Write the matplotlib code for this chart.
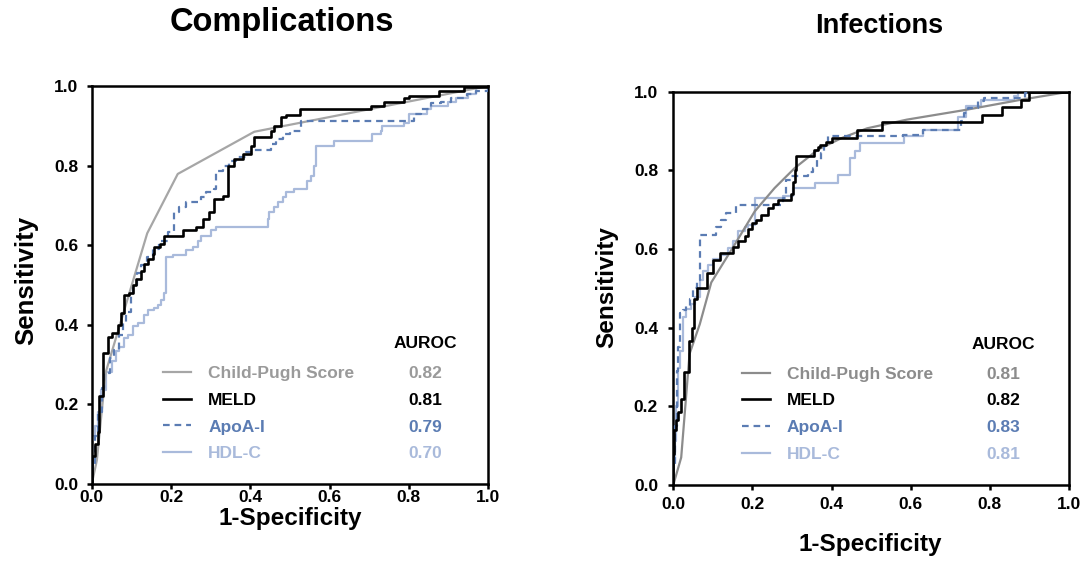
import matplotlib
matplotlib.use("Agg")
import matplotlib.pyplot as plt
from matplotlib.ticker import FormatStrFormatter

plt.rcParams['font.family'] = ['Liberation Sans', 'DejaVu Sans']
plt.rcParams['font.weight'] = 'bold'

# Legend names and AUROC values
names = ['Child-Pugh Score', 'MELD', 'ApoA-I', 'HDL-C']
auroc_comp = ['0.82', '0.81', '0.79', '0.70']
auroc_inf = ['0.81', '0.82', '0.83', '0.81']

# ---- Complications (fpr, tpr) ----
comp_cp_fpr = [0.0, 0.013, 0.035, 0.14, 0.217, 0.41, 1.0]
comp_cp_tpr = [0.0, 0.06, 0.28, 0.63, 0.779, 0.885, 1.0]

comp_meld_fpr = [0.0, 0.0, 0.008, 0.015, 0.018, 0.028, 0.042, 0.05, 0.065, 0.075, 0.082,
                 0.095, 0.103, 0.112, 0.124, 0.133, 0.141, 0.154, 0.158, 0.171, 0.183,
                 0.229, 0.263, 0.28, 0.297, 0.309, 0.33, 0.343, 0.36, 0.381, 0.402, 0.41,
                 0.452, 0.46, 0.478, 0.49, 0.525, 0.704, 0.738, 0.788, 0.80, 0.876, 0.94, 1.0]
comp_meld_tpr = [0.0, 0.07, 0.10, 0.13, 0.22, 0.33, 0.37, 0.38, 0.40, 0.43, 0.475,
                 0.48, 0.50, 0.515, 0.536, 0.553, 0.565, 0.578, 0.595, 0.603, 0.624,
                 0.637, 0.645, 0.666, 0.683, 0.716, 0.724, 0.80, 0.817, 0.829, 0.85, 0.871,
                 0.888, 0.90, 0.921, 0.928, 0.942, 0.95, 0.96, 0.971, 0.975, 0.988, 0.997, 1.0]

comp_apo_fpr = [0.0, 0.0, 0.007, 0.015, 0.025, 0.032, 0.045, 0.057, 0.07, 0.078, 0.087,
                0.099, 0.105, 0.115, 0.125, 0.14, 0.155, 0.17, 0.192, 0.208, 0.221, 0.238,
                0.276, 0.288, 0.309, 0.314, 0.33, 0.347, 0.364, 0.389, 0.406, 0.452, 0.465,
                0.482, 0.50, 0.527, 0.813, 0.83, 0.855, 0.88, 0.906, 0.948, 0.969, 1.0]
comp_apo_tpr = [0.0, 0.05, 0.12, 0.18, 0.24, 0.28, 0.316, 0.337, 0.374, 0.404, 0.433,
                0.48, 0.50, 0.53, 0.55, 0.57, 0.59, 0.61, 0.632, 0.683, 0.695, 0.708,
                0.72, 0.733, 0.741, 0.787, 0.80, 0.811, 0.821, 0.833, 0.839, 0.854, 0.867,
                0.879, 0.888, 0.913, 0.93, 0.942, 0.958, 0.96, 0.97, 0.98, 0.988, 1.0]

comp_hdl_fpr = [0.0, 0.0, 0.007, 0.015, 0.023, 0.036, 0.05, 0.061, 0.07, 0.082, 0.091,
                0.103, 0.116, 0.133, 0.141, 0.158, 0.167, 0.175, 0.183, 0.187, 0.204,
                0.238, 0.255, 0.267, 0.276, 0.301, 0.313, 0.444, 0.448, 0.461, 0.469, 0.482,
                0.49, 0.51, 0.544, 0.553, 0.561, 0.565, 0.611, 0.708, 0.729, 0.733, 0.788,
                0.80, 0.847, 0.855, 0.898, 0.92, 0.95, 0.969, 1.0]
comp_hdl_tpr = [0.0, 0.12, 0.145, 0.18, 0.237, 0.282, 0.31, 0.333, 0.345, 0.366, 0.374,
                0.396, 0.404, 0.425, 0.437, 0.442, 0.45, 0.463, 0.479, 0.57, 0.575,
                0.587, 0.595, 0.611, 0.624, 0.637, 0.645, 0.666, 0.683, 0.695, 0.708, 0.72,
                0.733, 0.741, 0.762, 0.774, 0.80, 0.85, 0.862, 0.879, 0.888, 0.90, 0.908,
                0.93, 0.942, 0.95, 0.96, 0.971, 0.979, 1.0, 1.0]

# ---- Infections ----
inf_cp_fpr = [0.0, 0.02, 0.041, 0.067, 0.096, 0.155, 0.206, 0.256, 0.307, 0.366, 0.425,
              0.49, 0.59, 0.74, 0.87, 1.0]
inf_cp_tpr = [0.0, 0.07, 0.333, 0.409, 0.515, 0.611, 0.696, 0.755, 0.806, 0.853, 0.882,
              0.907, 0.929, 0.954, 0.978, 1.0]

inf_meld_fpr = [0.0, 0.0, 0.002, 0.006, 0.012, 0.019, 0.027, 0.039, 0.047, 0.052, 0.061,
                0.084, 0.101, 0.118, 0.152, 0.164, 0.181, 0.19, 0.198, 0.21, 0.222, 0.239,
                0.253, 0.265, 0.297, 0.303, 0.307, 0.311, 0.355, 0.365, 0.37, 0.385, 0.40,
                0.465, 0.527, 0.78, 0.83, 0.88, 0.9, 1.0]
inf_meld_tpr = [0.0, 0.08, 0.14, 0.165, 0.185, 0.219, 0.287, 0.367, 0.40, 0.473, 0.50,
                0.538, 0.572, 0.589, 0.606, 0.62, 0.632, 0.652, 0.665, 0.675, 0.687, 0.704,
                0.715, 0.724, 0.74, 0.77, 0.80, 0.836, 0.853, 0.86, 0.865, 0.873, 0.882,
                0.903, 0.922, 0.942, 0.962, 0.98, 1.0, 1.0]

inf_apo_fpr = [0.0, 0.0, 0.005, 0.01, 0.013, 0.017, 0.025, 0.033, 0.041, 0.051, 0.06,
               0.067, 0.109, 0.12, 0.134, 0.159, 0.277, 0.286, 0.298, 0.341, 0.353, 0.362,
               0.374, 0.382, 0.391, 0.58, 0.63, 0.727, 0.736, 0.744, 0.769, 0.786, 0.888,
               0.896, 1.0]
inf_apo_tpr = [0.0, 0.05, 0.15, 0.29, 0.35, 0.437, 0.445, 0.456, 0.473, 0.50, 0.52,
               0.636, 0.657, 0.675, 0.692, 0.713, 0.73, 0.776, 0.785, 0.797, 0.806, 0.827,
               0.844, 0.863, 0.887, 0.891, 0.903, 0.925, 0.946, 0.958, 0.976, 0.984, 0.997,
               1.0, 1.0]

inf_hdl_fpr = [0.0, 0.0, 0.004, 0.008, 0.012, 0.016, 0.025, 0.033, 0.045, 0.054, 0.067,
               0.075, 0.088, 0.10, 0.12, 0.138, 0.15, 0.164, 0.18, 0.189, 0.206, 0.277,
               0.302, 0.357, 0.416, 0.446, 0.46, 0.471, 0.584, 0.63, 0.72, 0.741, 0.778,
               0.862, 0.87, 1.0]
inf_hdl_tpr = [0.0, 0.06, 0.113, 0.20, 0.297, 0.34, 0.426, 0.447, 0.46, 0.477, 0.52,
               0.545, 0.56, 0.575, 0.585, 0.602, 0.62, 0.645, 0.655, 0.662, 0.729, 0.735,
               0.755, 0.768, 0.789, 0.832, 0.85, 0.87, 0.887, 0.903, 0.935, 0.964, 0.978,
               0.99, 1.0, 1.0]

fig = plt.figure(figsize=(10.87, 5.61), dpi=100)
ax1 = fig.add_axes([0.0844, 0.1373, 0.3646, 0.7094])
ax2 = fig.add_axes([0.6194, 0.1355, 0.364, 0.701])

apo_col = '#5b7cb3'
hdl_col = '#a9badb'

# ax, aurocs, child-pugh line/text colour, curves, legend anchor, value x, header y,
# x tick pad, y tick pad
panels = [
    (ax1, auroc_comp, '#a6a6a6', '#9a9a9a',
     [(comp_cp_fpr, comp_cp_tpr), (comp_meld_fpr, comp_meld_tpr),
      (comp_apo_fpr, comp_apo_tpr), (comp_hdl_fpr, comp_hdl_tpr)],
     (0.18, 0.296), 0.841, 0.354, 0.5, 6.0),
    (ax2, auroc_inf, '#8c8c8c', '#8c8c8c',
     [(inf_cp_fpr, inf_cp_tpr), (inf_meld_fpr, inf_meld_tpr),
      (inf_apo_fpr, inf_apo_tpr), (inf_hdl_fpr, inf_hdl_tpr)],
     (0.173, 0.301), 0.833, 0.356, 5.5, 7.5),
]

for ax, aurocs, cp_col, cp_txt, curves, leg_xy, val_x, head_y, xpad, ypad in panels:
    line_cols = [cp_col, 'black', apo_col, hdl_col]
    text_cols = [cp_txt, 'black', apo_col, hdl_col]
    styles = ['-', '-', (0, (3, 2.2)), '-']
    widths = [1.6, 1.9, 1.6, 1.6]
    draw = ['default', 'steps-post', 'steps-post', 'steps-post']
    zord = [2, 4, 3, 1]

    for (fpr, tpr), name, c, ls, lw, ds, z in zip(curves, names, line_cols, styles,
                                                   widths, draw, zord):
        ax.plot(fpr, tpr, color=c, ls=ls, lw=lw, drawstyle=ds, zorder=z, label=name)

    ax.set_xlim(0, 1)
    ax.set_ylim(0, 1)
    ax.set_xticks([0, 0.2, 0.4, 0.6, 0.8, 1.0])
    ax.set_yticks([0, 0.2, 0.4, 0.6, 0.8, 1.0])
    ax.xaxis.set_major_formatter(FormatStrFormatter('%.1f'))
    ax.yaxis.set_major_formatter(FormatStrFormatter('%.1f'))
    ax.tick_params(direction='out', length=3.5, width=1.8, labelsize=12.5)
    ax.tick_params(axis='x', pad=xpad)
    ax.tick_params(axis='y', pad=ypad)
    for lab in ax.get_xticklabels() + ax.get_yticklabels():
        lab.set_fontweight('bold')
    for sp in ax.spines.values():
        sp.set_linewidth(1.8)

    leg = ax.legend(loc='upper left', bbox_to_anchor=leg_xy, frameon=False,
                    borderaxespad=0, borderpad=0, handlelength=1.6,
                    handletextpad=1.0, labelspacing=0.66,
                    prop={'size': 12.5, 'weight': 'bold'})
    for t, c in zip(leg.get_texts(), text_cols):
        t.set_color(c)
    ax.text(val_x, head_y, 'AUROC', transform=ax.transAxes, ha='center', va='center',
            fontsize=12.5, fontweight='bold', color='black')
    ax._leg_info = (leg, aurocs, text_cols, val_x)

# AUROC values on the legend rows
fig.canvas.draw()
for ax in (ax1, ax2):
    leg, aurocs, text_cols, val_x = ax._leg_info
    inv = ax.transAxes.inverted()
    for t, v, c in zip(leg.get_texts(), aurocs, text_cols):
        bb = t.get_window_extent()
        y0 = inv.transform((bb.x0, bb.y0))[1]
        ax.text(val_x, y0, v, transform=ax.transAxes, ha='center', va='bottom',
                fontsize=12.5, fontweight='bold', color=c)

W, H = 1087.0, 561.0
fig.text(282 / W, 1 - 23 / H, 'Complications', ha='center', va='center',
         fontsize=23.5, fontweight='bold')
fig.text(879 / W, 1 - 26 / H, 'Infections', ha='center', va='center',
         fontsize=19.5, fontweight='bold')
fig.text(290 / W, 1 - 519 / H, '1-Specificity', ha='center', va='center',
         fontsize=17.5, fontweight='bold')
fig.text(870 / W, 1 - 544 / H, '1-Specificity', ha='center', va='center',
         fontsize=17.5, fontweight='bold')
fig.text(26 / W, 1 - 280 / H, 'Sensitivity', ha='center', va='center', rotation=90,
         fontsize=18.5, fontweight='bold')
fig.text(607 / W, 1 - 287 / H, 'Sensitivity', ha='center', va='center', rotation=90,
         fontsize=17.5, fontweight='bold')

fig.savefig('out.png', dpi=100)
